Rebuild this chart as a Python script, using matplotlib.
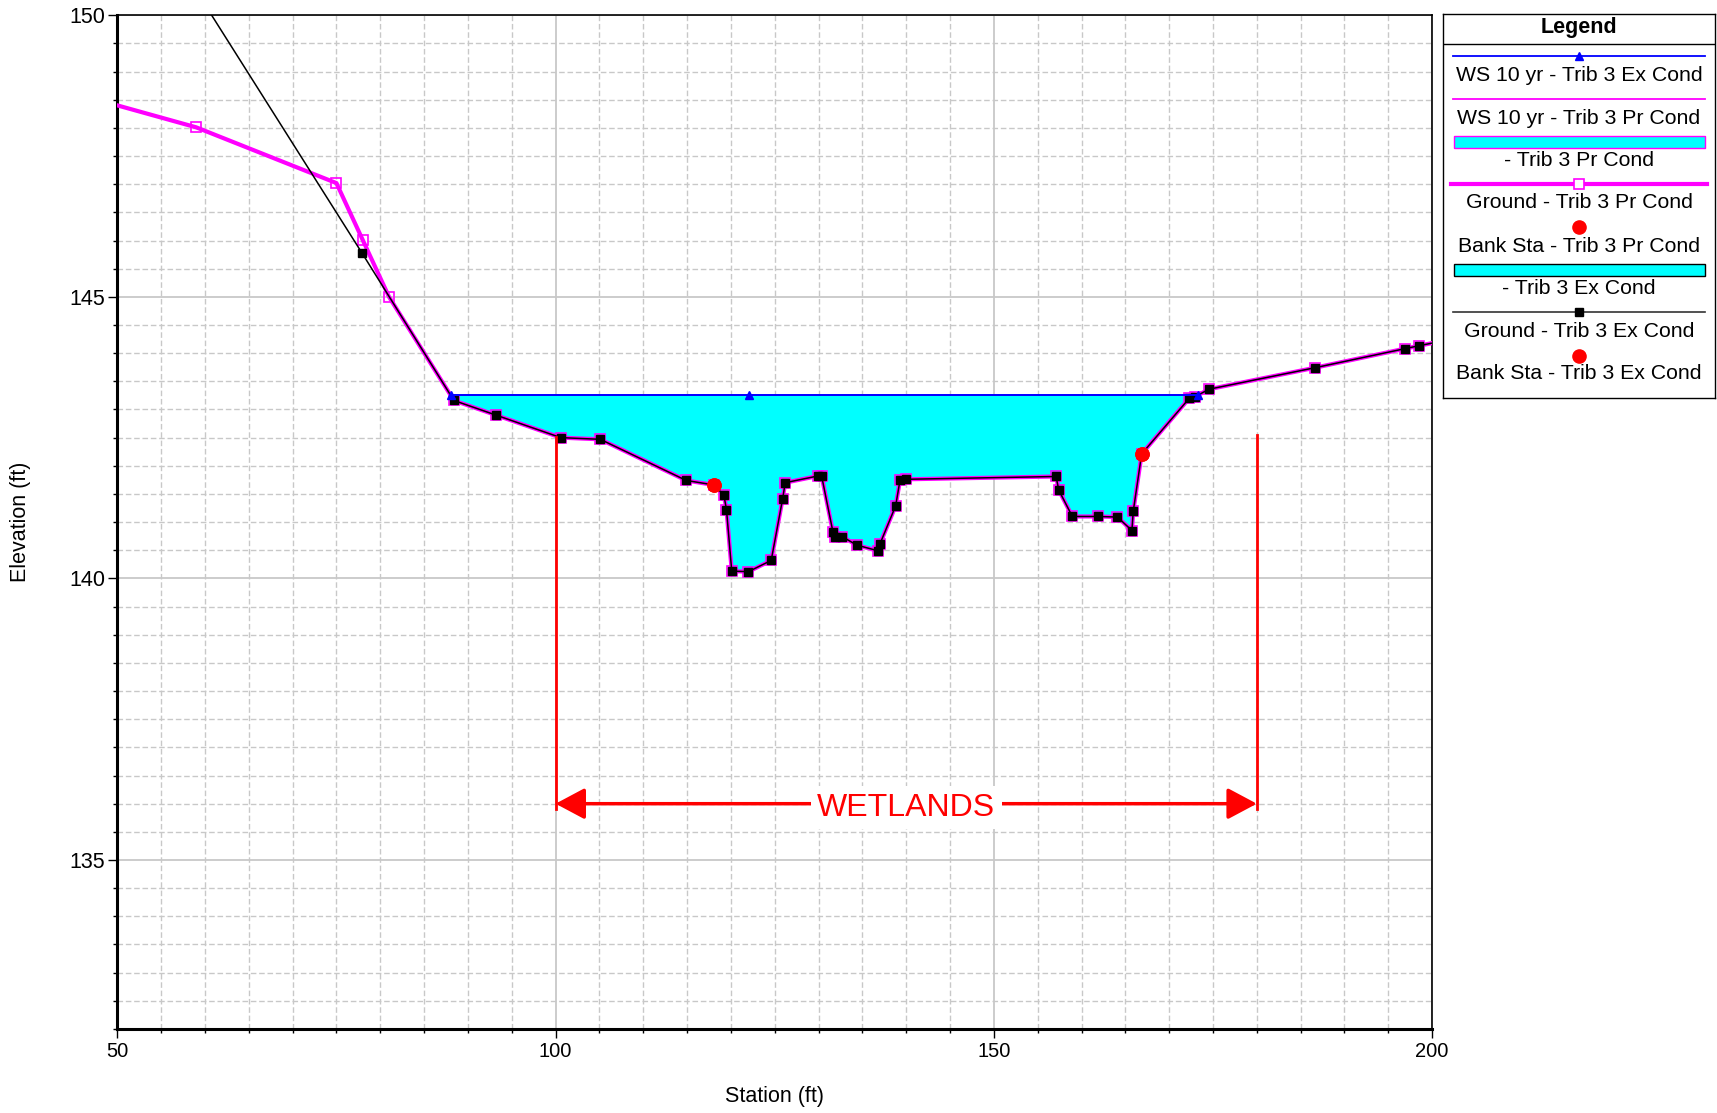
import numpy as np
import matplotlib
matplotlib.use('Agg')
import matplotlib.pyplot as plt
from matplotlib.lines import Line2D
from matplotlib.patches import Rectangle

plt.rcParams['font.family'] = ['Liberation Sans', 'DejaVu Sans']

# ----------------------------------------------------------------------------
# Data
# ----------------------------------------------------------------------------
# existing-condition ground (station ft, elevation ft)
ex_sta = [55.0, 77.95, 88.4, 93.2, 100.6, 105.1, 114.9, 118.05, 119.2, 119.5,
          120.1, 122.0, 124.6, 125.9, 126.2, 129.95, 130.35, 131.65, 131.85,
          132.7, 134.4, 136.8, 137.0, 138.8, 139.3, 139.95, 157.1, 157.4,
          158.95, 161.85, 164.1, 165.75, 165.9, 166.86, 172.3, 173.0, 174.55,
          186.6, 196.9, 198.45, 201.0]
ex_elev = [151.42, 145.77, 143.16, 142.90, 142.50, 142.47, 141.74, 141.66,
           141.48, 141.22, 140.13, 140.12, 140.32, 141.41, 141.70, 141.82,
           141.82, 140.82, 140.74, 140.74, 140.59, 140.49, 140.61, 141.29,
           141.75, 141.76, 141.81, 141.57, 141.10, 141.10, 141.09, 140.85,
           141.19, 142.21, 143.20, 143.23, 143.36, 143.74, 144.08, 144.13,
           144.21]

# proposed-condition ground differs only on the left overbank
pr_left_sta = [47.0, 59.0, 75.0, 78.0, 81.0]
pr_left_elev = [148.53, 148.01, 147.02, 146.01, 145.0]

# 10-yr water surface (same for both conditions)
ws_sta = [88.06, 122.1, 173.25]
ws_elev = [143.25, 143.25, 143.25]

# bank stations
bank_sta = [118.05, 166.86]
bank_elev = [141.66, 142.21]

# wetlands annotation
wet_start, wet_end = 100.0, 180.0
wet_top = [142.52, 142.54]
wet_arrow_elev = 136.0
wet_bottom = 135.9

legend_labels = ['WS 10 yr - Trib 3 Ex Cond', 'WS 10 yr - Trib 3 Pr Cond',
                 '- Trib 3 Pr Cond', 'Ground - Trib 3 Pr Cond',
                 'Bank Sta - Trib 3 Pr Cond', '- Trib 3 Ex Cond',
                 'Ground - Trib 3 Ex Cond', 'Bank Sta - Trib 3 Ex Cond']

pr_sta = pr_left_sta + ex_sta[2:]
pr_elev = pr_left_elev + ex_elev[2:]

# ----------------------------------------------------------------------------
fig = plt.figure(figsize=(17.17, 11.13), dpi=100)
ax = fig.add_axes([0.0683, 0.0755, 0.7658, 0.9108])

g_sta = np.array(pr_sta)
g_elev = np.array(pr_elev)
ws = ws_elev[0]
inside = g_elev <= ws

# flow areas
ax.fill_between(g_sta, g_elev, ws, where=inside, interpolate=True,
                facecolor='#00FFFF', edgecolor='#FF00FF', lw=1, zorder=2)
ax.fill_between(np.array(ex_sta), np.array(ex_elev), ws,
                where=np.array(ex_elev) <= ws, interpolate=True,
                facecolor='#00FFFF', edgecolor='none', lw=0, zorder=2)

# ground lines
ax.plot(pr_sta, pr_elev, color='#FF00FF', lw=3, marker='s', ms=7.5,
        mfc='none', mec='#FF00FF', mew=1.2, zorder=3)
ax.plot(ex_sta, ex_elev, color='black', lw=1.1, marker='s', ms=6.3,
        mfc='black', mec='black', zorder=4)

# water surfaces
ax.plot(ws_sta, ws_elev, color='#FF00FF', lw=1.2, zorder=5)
ax.plot(ws_sta, ws_elev, color='#0000FF', lw=1.4, marker='^', ms=6,
        zorder=6)

# bank stations
ax.plot(bank_sta, bank_elev, 'o', color='red', ms=9.5, zorder=7)
ax.plot(bank_sta, bank_elev, 'o', color='red', ms=9.5, zorder=7)

# wetlands extent
for s, top in zip([wet_start, wet_end], wet_top):
    ax.plot([s, s], [top, wet_bottom], color='red', lw=2, zorder=8)
ax.annotate('', xy=(wet_start, wet_arrow_elev), xytext=(wet_end, wet_arrow_elev),
            arrowprops=dict(arrowstyle='<|-|>,head_length=0.6,head_width=0.32',
                            color='red', lw=2.5, mutation_scale=30,
                            shrinkA=0, shrinkB=0), zorder=8)
ax.text((wet_start + wet_end) / 2, wet_arrow_elev - 0.07, 'WETLANDS',
        color='red', fontsize=23, ha='center', va='center', zorder=9,
        bbox=dict(boxstyle='square,pad=0.2', fc='white', ec='none'))

# axes, ticks, grid
ax.set_xlim(50, 200)
ax.set_ylim(132, 150)
ax.set_xticks(np.arange(50, 201, 50))
ax.set_xticks(np.arange(50, 201, 5), minor=True)
ax.set_yticks(np.arange(135, 151, 5))
ax.set_yticks(np.arange(132, 150.01, 0.5), minor=True)
ax.grid(which='major', color='#c8c8c8', lw=1.3, ls='-')
ax.grid(which='minor', color='#c8c8c8', lw=1.0, ls=(0, (4, 2)))
ax.set_axisbelow(True)
ax.tick_params(which='major', direction='out', length=6.5, width=1, color='black')
ax.tick_params(which='minor', direction='out', length=3.2, width=1, color='black')
ax.tick_params(axis='x', labelsize=14.5, pad=3)
ax.tick_params(axis='y', labelsize=15.5, pad=2)
for side in ['left', 'bottom']:
    ax.spines[side].set_linewidth(2.2)
for side in ['top', 'right']:
    ax.spines[side].set_linewidth(1.2)
ax.set_xlabel('Station (ft)', fontsize=15.5, labelpad=18)
ax.set_ylabel('Elevation (ft)', fontsize=15.5, labelpad=28)

# ----------------------------------------------------------------------------
# Legend box (symbol above each label, as in the source software)
# ----------------------------------------------------------------------------
lax = fig.add_axes([1443 / 1717, 1 - 398 / 1113, 272 / 1717, 384 / 1113])
lax.set_xlim(0, 272)
lax.set_ylim(384, 0)
lax.set_xticks([])
lax.set_yticks([])
for sp in lax.spines.values():
    sp.set_linewidth(1)
lax.text(136, 13, 'Legend', fontsize=15.5, fontweight='bold', ha='center', va='center')
lax.plot([0, 272], [30, 30], color='black', lw=1)

sym_y = [42.4, 85, 128, 170, 213.4, 255.7, 298.4, 341.7]
txt_y = [61.7, 104, 146.7, 189, 232.4, 274, 317.4, 359.7]
x0, x1, xc = 10, 262, 136

lax.add_line(Line2D([x0, x1], [sym_y[0]] * 2, color='#0000FF', lw=1.3))
lax.plot([xc], [sym_y[0]], marker='^', color='#0000FF', ms=6)
lax.add_line(Line2D([x0, x1], [sym_y[1]] * 2, color='#FF00FF', lw=1.3))
lax.add_patch(Rectangle((x0 + 1, sym_y[2] - 6), x1 - x0 - 1, 12,
                        facecolor='#00FFFF', edgecolor='#FF00FF', lw=1))
lax.add_line(Line2D([x0 - 2, x1 + 2], [sym_y[3]] * 2, color='#FF00FF', lw=3))
lax.plot([xc], [sym_y[3]], marker='s', ms=7.5, mfc='white', mec='#FF00FF', mew=1.2)
lax.plot([xc], [sym_y[4]], 'o', color='red', ms=9.5)
lax.add_patch(Rectangle((x0 + 1, sym_y[5] - 6), x1 - x0 - 1, 12,
                        facecolor='#00FFFF', edgecolor='black', lw=1))
lax.add_line(Line2D([x0, x1], [sym_y[6]] * 2, color='#333333', lw=1.2))
lax.plot([xc], [sym_y[6]], marker='s', color='black', ms=6)
lax.plot([xc], [sym_y[7]], 'o', color='red', ms=9.5)

for lab, y in zip(legend_labels, txt_y):
    lax.text(xc, y, lab, fontsize=15.3, ha='center', va='center')

fig.savefig('out.png', dpi=100)
